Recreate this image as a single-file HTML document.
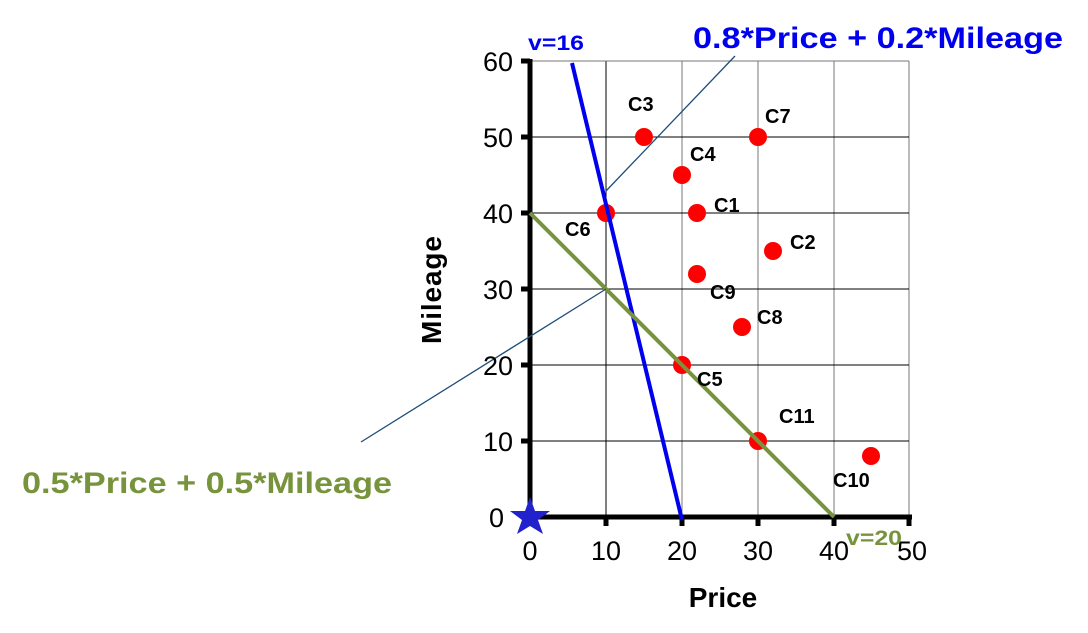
<!DOCTYPE html>
<html><head><style>html,body{margin:0;padding:0;background:#fff;width:1088px;height:633px;overflow:hidden}</style></head>
<body>
<svg width="1088" height="633" viewBox="0 0 1088 633" xmlns="http://www.w3.org/2000/svg">
<g stroke="#000" stroke-width="1">
<line x1="606" y1="61" x2="606" y2="517"/>
<line x1="682" y1="61" x2="682" y2="517" stroke="#777"/>
<line x1="758" y1="61" x2="758" y2="517" stroke="#777"/>
<line x1="834" y1="61" x2="834" y2="517" stroke="#777"/>
<line x1="909" y1="61" x2="909" y2="517" stroke="#777"/>
<line x1="530" y1="61" x2="909" y2="61" stroke="#777"/>
<line x1="530" y1="137" x2="909" y2="137"/>
<line x1="530" y1="213" x2="909" y2="213"/>
<line x1="530" y1="289" x2="909" y2="289"/>
<line x1="530" y1="365" x2="909" y2="365"/>
<line x1="530" y1="441" x2="909" y2="441"/>
</g>
<g stroke="#000" stroke-width="5">
<line x1="530" y1="59" x2="530" y2="520"/>
<line x1="528" y1="517" x2="912" y2="517"/>
</g>
<g stroke="#000" stroke-width="5">
<line x1="521" y1="61" x2="530" y2="61"/><line x1="521" y1="137" x2="530" y2="137"/>
<line x1="521" y1="213" x2="530" y2="213"/><line x1="521" y1="289" x2="530" y2="289"/>
<line x1="521" y1="365" x2="530" y2="365"/><line x1="521" y1="441" x2="530" y2="441"/>
<line x1="606" y1="517" x2="606" y2="526"/><line x1="682" y1="517" x2="682" y2="526"/>
<line x1="758" y1="517" x2="758" y2="526"/><line x1="834" y1="517" x2="834" y2="526"/>
<line x1="909" y1="517" x2="909" y2="526"/>
</g>
<g fill="red">
<circle cx="644" cy="137" r="9"/><circle cx="758" cy="137" r="9"/>
<circle cx="682" cy="175" r="9"/><circle cx="697" cy="213" r="9"/>
<circle cx="606" cy="213" r="9"/><circle cx="773" cy="251" r="9"/>
<circle cx="697" cy="274" r="9"/><circle cx="742" cy="327" r="9"/>
<circle cx="682" cy="365" r="9"/><circle cx="758" cy="441" r="9"/>
<circle cx="871" cy="456" r="9"/>
</g>
<line x1="572" y1="63" x2="682" y2="520" stroke="#0000ee" stroke-width="4"/>
<line x1="530" y1="213" x2="834" y2="517" stroke="#77933c" stroke-width="4"/>
<line x1="606" y1="191" x2="735" y2="56" stroke="#1f4e79" stroke-width="1.3"/>
<line x1="361" y1="442" x2="606" y2="289" stroke="#1f4e79" stroke-width="1.3"/>
<polygon points="530,497 535,511 550,511 538,520 543,534 530,526 517,534 522,520 510,511 525,511" fill="#2222cc"/>
<g font-family="Liberation Sans, sans-serif" font-size="27" fill="#000">
<text x="513" y="71" text-anchor="end">60</text><text x="513" y="147" text-anchor="end">50</text>
<text x="513" y="223" text-anchor="end">40</text><text x="513" y="299" text-anchor="end">30</text>
<text x="513" y="375" text-anchor="end">20</text><text x="513" y="451" text-anchor="end">10</text>
<text x="504" y="527" text-anchor="end">0</text>
<text x="530" y="560" text-anchor="middle">0</text><text x="606" y="560" text-anchor="middle">10</text>
<text x="682" y="560" text-anchor="middle">20</text><text x="758" y="560" text-anchor="middle">30</text>
<text x="834" y="560" text-anchor="middle">40</text><text x="912" y="560" text-anchor="middle">50</text>
<text x="723" y="607" text-anchor="middle" font-weight="bold" font-size="28">Price</text>
<text transform="translate(441,290) rotate(-90)" text-anchor="middle" font-weight="bold" font-size="28" textLength="108">Mileage</text>
</g>
<g font-family="Liberation Sans, sans-serif" font-size="20" font-weight="bold" fill="#000">
<text x="628" y="111">C3</text><text x="765" y="123">C7</text><text x="690" y="161">C4</text>
<text x="714" y="212">C1</text><text x="565" y="236">C6</text><text x="790" y="249">C2</text>
<text x="710" y="299">C9</text><text x="757" y="324">C8</text><text x="697" y="386">C5</text>
<text x="779" y="423">C11</text><text x="833" y="487">C10</text>
</g>
<text x="528" y="50" font-family="Liberation Sans, sans-serif" font-size="21" font-weight="bold" fill="#0000ee" textLength="56" lengthAdjust="spacingAndGlyphs">v=16</text>
<text x="693" y="48" font-family="Liberation Sans, sans-serif" font-size="30" font-weight="bold" fill="#0000ee" textLength="370" lengthAdjust="spacingAndGlyphs">0.8*Price + 0.2*Mileage</text>
<text x="22" y="493" font-family="Liberation Sans, sans-serif" font-size="30" font-weight="bold" fill="#77933c" textLength="370" lengthAdjust="spacingAndGlyphs">0.5*Price + 0.5*Mileage</text>
<text x="846" y="545" font-family="Liberation Sans, sans-serif" font-size="21" font-weight="bold" fill="#77933c" textLength="56" lengthAdjust="spacingAndGlyphs">v=20</text>
</svg>
</body></html>
